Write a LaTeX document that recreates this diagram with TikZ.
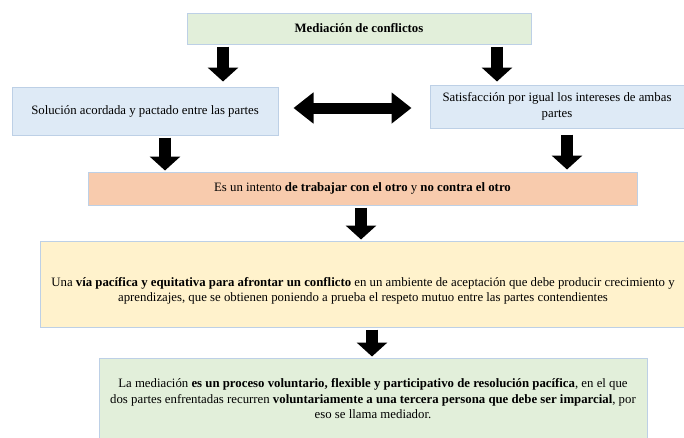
\documentclass[tikz,border=0pt]{standalone}
\usepackage{fontspec}
\setmainfont{Liberation Serif}
\usetikzlibrary{arrows.meta}

\definecolor{verde}{HTML}{E2EFDA}
\definecolor{azul}{HTML}{DEEAF6}
\definecolor{naranja}{HTML}{F8CBAD}
\definecolor{amarillo}{HTML}{FFF2CC}
\definecolor{borde}{HTML}{BDD0E6}

\tikzset{
  caja/.style={draw=borde, line width=1pt, align=center, inner sep=0pt,
    font=\fontsize{12.8}{15.5}\selectfont},
  flecha/.style={line width=12pt, -{Triangle[width=30pt,length=14pt]}},
  dobleflecha/.style={line width=11pt,
    {Triangle[width=30pt,length=20pt]}-{Triangle[width=30pt,length=20pt]}},
}

\begin{document}
\begin{tikzpicture}[x=1pt,y=-1pt]
\useasboundingbox (0,0) rectangle (684,437);

% Cajas
\node[caja, fill=verde, minimum width=344pt, minimum height=31pt] (mediacion) at (359,28.5)
  {\textbf{Mediación de conflictos}};
\node[caja, fill=azul, minimum width=266pt, minimum height=48pt] (solucion) at (145,111)
  {Solución acordada y pactado entre las partes};
\node[caja, fill=azul, minimum width=254pt, minimum height=43pt] (satisfaccion) at (557,106.5)
  {Satisfacción por igual los intereses de ambas\\ partes};
\node[caja, fill=naranja, minimum width=549pt, minimum height=33pt] (intento) at (362.5,188.5)
  {Es un intento \textbf{de trabajar con el otro} y \textbf{no contra el otro}};
\node[caja, fill=amarillo, minimum width=646pt, minimum height=86pt] (via) at (363,284)
  {\rule{0pt}{23pt}Una \textbf{vía pacífica y equitativa para afrontar un conflicto} en un ambiente de aceptación que debe producir crecimiento y\\
   aprendizajes, que se obtienen poniendo a prueba el respeto mutuo entre las partes contendientes};
\node[caja, fill=verde, minimum width=548pt, minimum height=82pt] (proceso) at (373,399)
  {La mediación \textbf{es un proceso voluntario, flexible y participativo de resolución pacífica}, en el que\\
   dos partes enfrentadas recurren \textbf{voluntariamente a una tercera persona que debe ser imparcial}, por\\
   eso se llama mediador.};

% Flechas
\draw[flecha, shorten <=2pt, shorten >=5pt] (mediacion.south -| 223,0) -- (solucion.north -| 223,0);
\draw[flecha, shorten <=2pt, shorten >=3pt] (mediacion.south -| 497,0) -- (satisfaccion.north -| 497,0);
\draw[dobleflecha, shorten <=15pt, shorten >=18pt] (solucion.east |- 0,108) -- (satisfaccion.west |- 0,108);
\draw[flecha, shorten <=2pt, shorten >=1pt] (solucion.south -| 165,0) -- (intento.north -| 165,0);
\draw[flecha, shorten <=6pt, shorten >=2pt] (satisfaccion.south -| 567,0) -- (intento.north -| 567,0);
\draw[flecha, shorten <=2pt, shorten >=1pt] (intento.south -| 361,0) -- (via.north -| 361,0);
\draw[flecha, shorten <=2pt, shorten >=1pt] (via.south -| 372,0) -- (proceso.north -| 372,0);

\end{tikzpicture}
\end{document}
